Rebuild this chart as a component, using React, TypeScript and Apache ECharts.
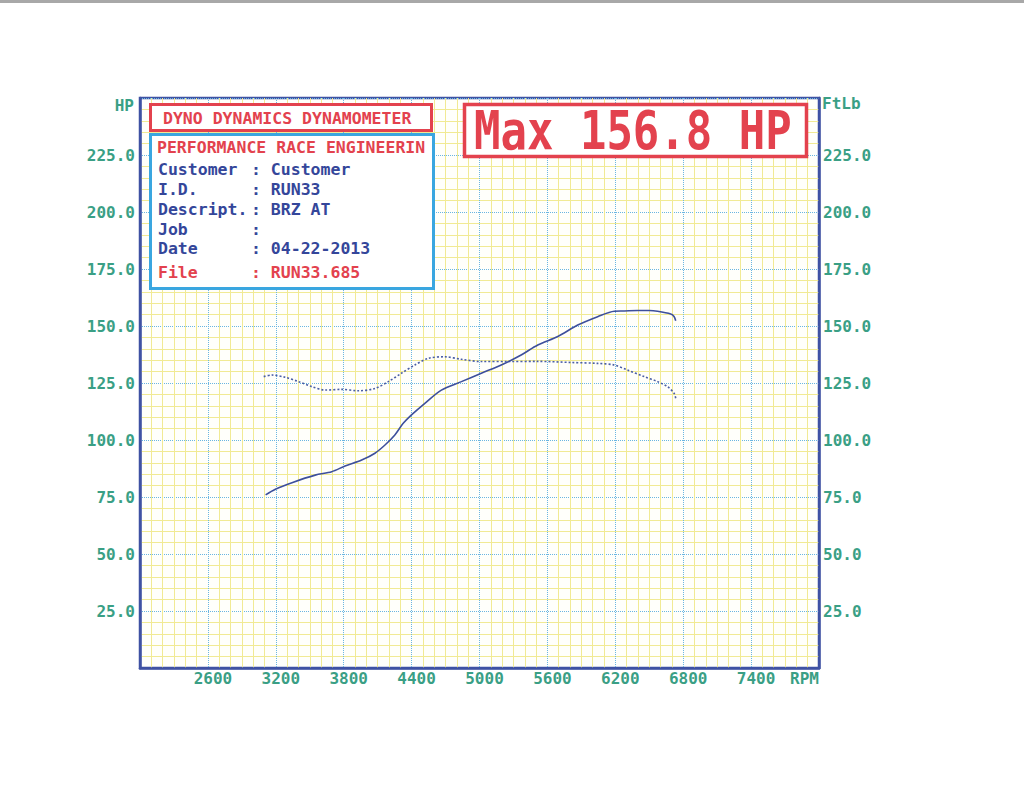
import React, { useEffect, useRef } from "react";
import * as echarts from "echarts";

const rpmTicks = [2600, 3200, 3800, 4400, 5000, 5600, 6200, 6800, 7400];
const yTicks = [25, 50, 75, 100, 125, 150, 175, 200, 225];

const hpData: [number, number][] = [
  [3110, 75.9], [3196, 78.4], [3343, 81.3], [3548, 84.6], [3694, 86.1],
  [3812, 88.6], [3959, 91.2], [4076, 94.2], [4165, 97.8], [4252, 102.2],
  [4326, 107.3], [4399, 111.0], [4517, 116.1], [4663, 121.9], [4840, 125.6],
  [5016, 129.3], [5192, 132.9], [5368, 137.3], [5515, 141.7], [5692, 145.4],
  [5868, 150.4], [6044, 154.1], [6191, 156.5], [6279, 156.6], [6396, 156.8],
  [6500, 156.8], [6573, 156.5], [6690, 155.3], [6719, 154.2], [6734, 152.3],
];

const torqueData: [number, number][] = [
  [3093, 127.8], [3165, 128.5], [3283, 127.5], [3401, 125.6], [3518, 123.4],
  [3636, 121.9], [3782, 122.2], [3930, 121.6], [4076, 122.6], [4194, 125.6],
  [4311, 129.3], [4428, 132.9], [4546, 135.8], [4693, 136.5], [4840, 135.4],
  [5016, 134.4], [5251, 134.4], [5515, 134.5], [5809, 134.0], [6044, 133.6],
  [6191, 132.9], [6308, 130.7], [6455, 127.8], [6573, 125.6], [6661, 123.4],
  [6719, 120.5], [6734, 118.3],
];

const infoLabels = ["Customer", "I.D.", "Descript.", "Job", "Date", "File"];
const infoValues = ["Customer", "RUN33", "BRZ AT", "", "04-22-2013", "RUN33.685"];
const headerTitle = "DYNO DYNAMICS DYNAMOMETER";
const shopName = "PERFORMANCE RACE ENGINEERIN";
const maxText = "Max 156.8 HP";

const MONO = '"DejaVu Sans Mono", "Liberation Mono", monospace';
const TEAL = "#3a9f85";
const RED = "#e3424e";
const NAVY = "#34469a";
const BORDER = "#3f52a3";

export default function App() {
  const ref = useRef<HTMLDivElement>(null);
  useEffect(() => {
    if (!ref.current) return;
    const chart = echarts.init(ref.current, null, { renderer: "svg" });
    const axisLabel = {
      color: TEAL,
      fontFamily: MONO,
      fontWeight: "bold" as const,
      fontSize: 16,
    };
    const yFmt = (v: number) => (yTicks.includes(v) ? v.toFixed(1) : "");
    const infoY = [169, 189, 209, 229, 248, 272];
    const graphics: any[] = [
      { type: "rect", z: 100, shape: { x: 0, y: 0, width: 1024, height: 3 }, style: { fill: "#a8a8a8" } },
      {
        type: "rect", z: 100,
        shape: { x: 150.5, y: 104.5, width: 281, height: 26 },
        style: { fill: "#ffffff", stroke: RED, lineWidth: 3 },
      },
      {
        type: "text", z: 101, x: 163, y: 118,
        style: { text: headerTitle, fill: RED, font: `bold 16.5px ${MONO}`, verticalAlign: "middle" },
      },
      {
        type: "rect", z: 100,
        shape: { x: 150.5, y: 134.5, width: 283, height: 154 },
        style: { fill: "#ffffff", stroke: "#3aa6e0", lineWidth: 3 },
      },
      {
        type: "text", z: 101, x: 157, y: 147,
        style: { text: shopName, fill: RED, font: `bold 16.5px ${MONO}`, verticalAlign: "middle" },
      },
      {
        type: "rect", z: 100,
        shape: { x: 464.5, y: 104.5, width: 342, height: 52 },
        style: { fill: "#ffffff", stroke: RED, lineWidth: 3.5 },
      },
      {
        type: "text", z: 101, x: 474, y: 130.5, scaleY: 1.2,
        style: { text: maxText, fill: RED, font: `bold 44px ${MONO}`, verticalAlign: "middle" },
      },
      {
        type: "text", z: 101, x: 134, y: 105,
        style: { text: "HP", fill: TEAL, font: `bold 16px ${MONO}`, align: "right", verticalAlign: "middle" },
      },
      {
        type: "text", z: 101, x: 822, y: 103,
        style: { text: "FtLb", fill: TEAL, font: `bold 16px ${MONO}`, verticalAlign: "middle" },
      },
      {
        type: "text", z: 101, x: 790, y: 678,
        style: { text: "RPM", fill: TEAL, font: `bold 16px ${MONO}`, verticalAlign: "middle" },
      },
    ];
    infoLabels.forEach((lab, i) => {
      const col = i === 5 ? RED : NAVY;
      graphics.push({
        type: "text", z: 101, x: 158, y: infoY[i],
        style: { text: lab, fill: col, font: `bold 16.5px ${MONO}`, verticalAlign: "middle" },
      });
      graphics.push({
        type: "text", z: 101, x: 251, y: infoY[i],
        style: {
          text: ": " + infoValues[i], fill: col, font: `bold 16.5px ${MONO}`, verticalAlign: "middle",
        },
      });
    });

    const yAxisBase = {
      type: "value" as const,
      min: 0,
      max: 250,
      interval: 25,
      axisLine: { show: true, lineStyle: { color: BORDER, width: 2.5 } },
      axisTick: { show: false },
      splitLine: { show: true, lineStyle: { color: "#6ab6e2", type: "dotted" as const, width: 1 } },
      minorTick: { show: false, splitNumber: 5 },
      minorSplitLine: { show: true, lineStyle: { color: "#f1ea94", width: 1 } },
      axisLabel: { ...axisLabel, formatter: yFmt },
    };

    chart.setOption({
      animation: false,
      backgroundColor: "#ffffff",
      grid: {
        left: 140, right: 205, top: 98, bottom: 123,
        show: true, borderColor: BORDER, borderWidth: 2.5, backgroundColor: "#fffffb",
      },
      xAxis: {
        type: "value",
        min: 2000,
        max: 8000,
        interval: 600,
        axisLine: { show: true, lineStyle: { color: BORDER, width: 2.5 } },
        axisTick: { show: false },
        splitLine: { show: true, lineStyle: { color: "#6ab6e2", type: "dotted", width: 1 } },
        minorTick: { show: false, splitNumber: 6 },
        minorSplitLine: { show: true, lineStyle: { color: "#f1ea94", width: 1 } },
        axisLabel: {
          ...axisLabel,
          margin: 2,
          padding: [0, 0, 0, 10],
          formatter: (v: number) => (rpmTicks.includes(v) ? String(v) : ""),
        },
      },
      yAxis: [
        { ...yAxisBase, position: "left", axisLabel: { ...yAxisBase.axisLabel, margin: 5 } },
        { ...yAxisBase, position: "right", splitLine: { show: false }, minorSplitLine: { show: false }, axisLabel: { ...yAxisBase.axisLabel, margin: 4 } },
      ],
      graphic: graphics,
      series: [
        {
          type: "line",
          name: "Torque",
          yAxisIndex: 1,
          data: torqueData,
          smooth: 0.3,
          showSymbol: false,
          lineStyle: { color: "#4a5ea6", width: 1.6, type: [2, 2] },
          z: 3,
        },
        {
          type: "line",
          name: "HP",
          yAxisIndex: 0,
          data: hpData,
          smooth: 0.3,
          showSymbol: false,
          lineStyle: { color: "#3d4f9c", width: 1.6 },
          z: 4,
        },
      ],
    });
    return () => chart.dispose();
  }, []);
  return (
    <div
      ref={ref}
      style={{ position: "fixed", left: 0, top: 0, width: 1024, height: 791 }}
    />
  );
}
